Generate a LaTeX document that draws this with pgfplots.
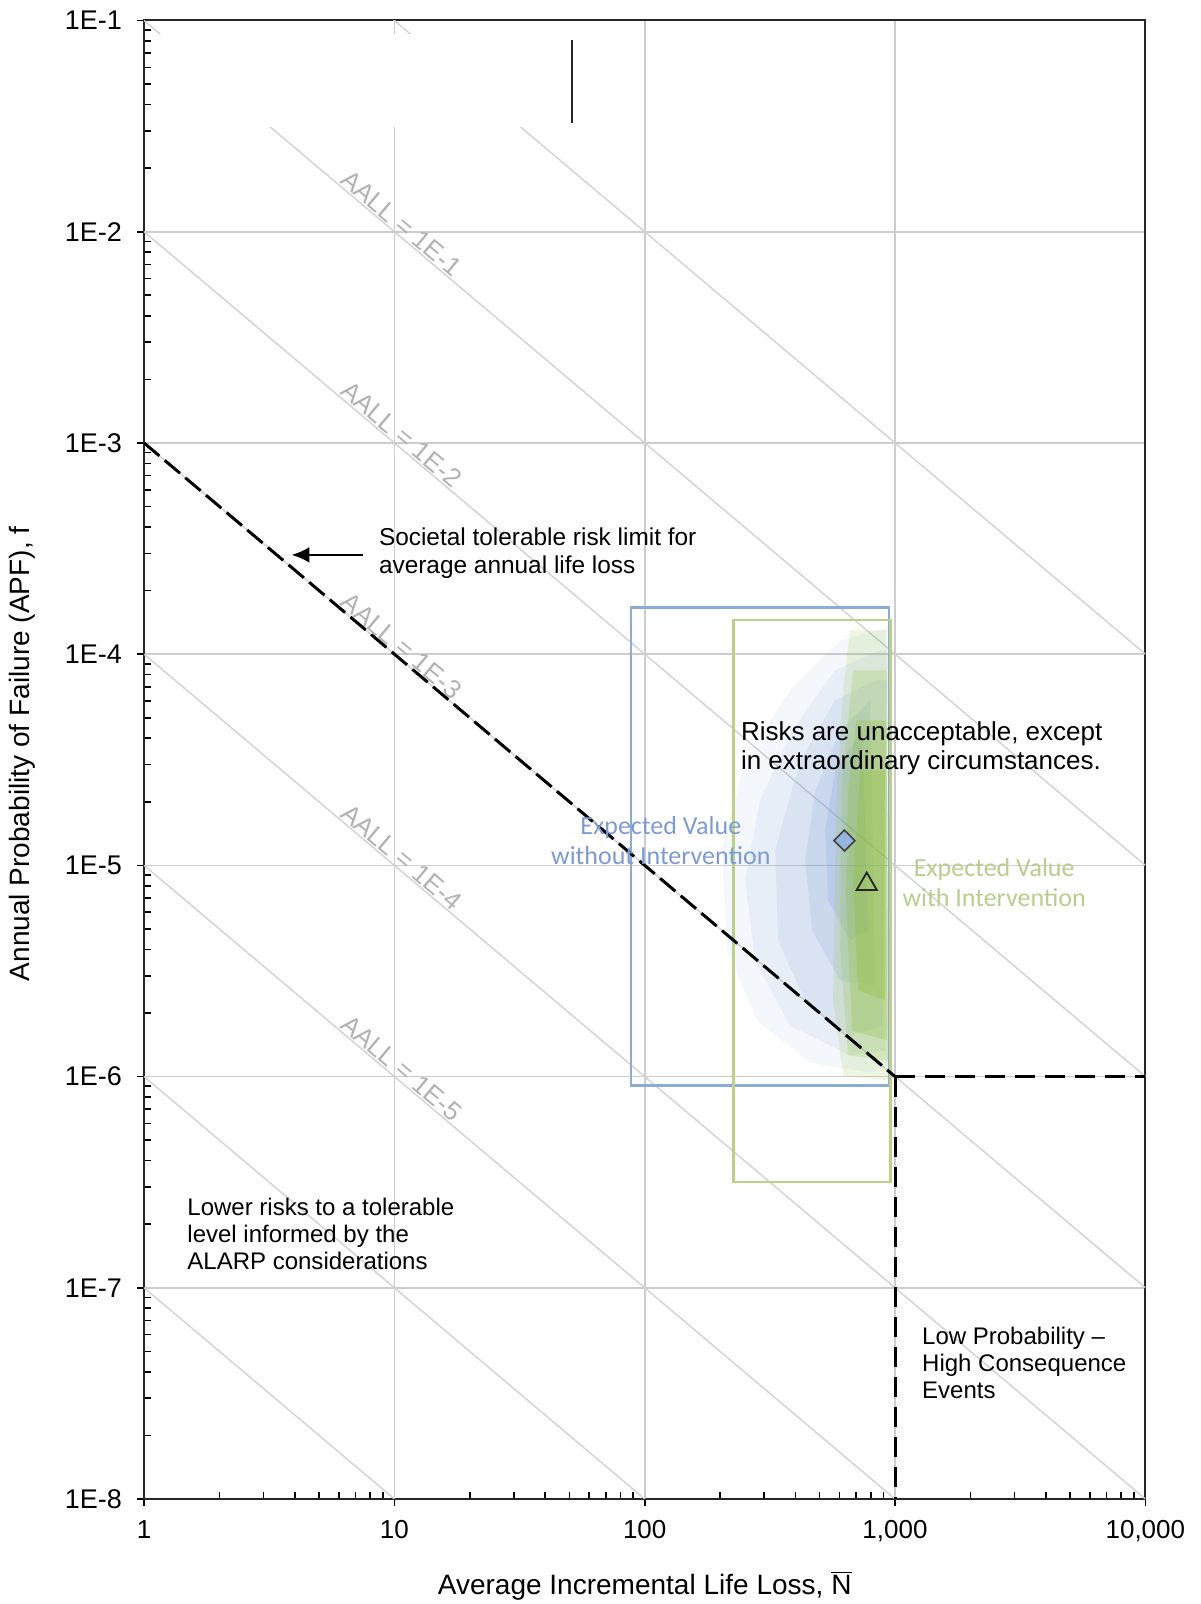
\documentclass[border=0pt]{standalone}
\usepackage{pgfplots}
\pgfplotsset{compat=1.18}
\usepackage{fontspec}
\setmainfont{Liberation Sans}
\newfontfamily\calibri{Carlito}
\usetikzlibrary{arrows.meta}
\definecolor{gridgray}{RGB}{205,205,205}
\definecolor{diaggray}{RGB}{210,210,210}
\definecolor{lblgray}{RGB}{178,178,178}
\definecolor{rectblue}{RGB}{140,172,216}
\definecolor{rectgreen}{RGB}{188,208,138}
\definecolor{cloudblue}{RGB}{120,155,210}
\definecolor{cloudgreen}{RGB}{140,190,50}
\definecolor{txtblue}{RGB}{125,155,210}
\definecolor{txtgreen}{RGB}{185,205,140}
\definecolor{diamfill}{RGB}{150,180,222}
\begin{document}
\begin{tikzpicture}
\useasboundingbox (-72pt,-52.5pt) rectangle (528pt,749.25pt);
\begin{axis}[
  at={(0,0)}, anchor=south west,
  scale only axis, width=500.5pt, height=739pt,
  xmode=log, ymode=log,
  xmin=1, xmax=10000, ymin=1e-8, ymax=1e-1,
  xtick={1,10,100,1000,10000},
  xticklabels={1,10,100,{1,000},{10,000}},
  ytick={1e-8,1e-7,1e-6,1e-5,1e-4,1e-3,1e-2,1e-1},
  yticklabels={1E-8,1E-7,1E-6,1E-5,1E-4,1E-3,1E-2,1E-1},
  minor xtick={2,3,4,5,6,7,8,9,20,30,40,50,60,70,80,90,200,300,400,500,600,700,800,900,2000,3000,4000,5000,6000,7000,8000,9000},
  minor ytick={2e-8,3e-8,4e-8,5e-8,6e-8,7e-8,8e-8,9e-8,2e-7,3e-7,4e-7,5e-7,6e-7,7e-7,8e-7,9e-7,2e-6,3e-6,4e-6,5e-6,6e-6,7e-6,8e-6,9e-6,2e-5,3e-5,4e-5,5e-5,6e-5,7e-5,8e-5,9e-5,2e-4,3e-4,4e-4,5e-4,6e-4,7e-4,8e-4,9e-4,2e-3,3e-3,4e-3,5e-3,6e-3,7e-3,8e-3,9e-3,2e-2,3e-2,4e-2,5e-2,6e-2,7e-2,8e-2,9e-2},
  tick pos=left,
  tick align=outside,
  major tick length=3.5pt,
  minor tick length=-3.5pt,
  tick style={black, line width=0.8pt},
  grid=major,
  major grid style={gridgray, line width=0.8pt},
  axis line style={black!85, line width=1pt},
  ticklabel style={font=\fontsize{13}{15}\selectfont},
  yticklabel style={xshift=-4pt, font=\fontsize{13.5}{15}\selectfont},
  xticklabel style={yshift=-3.6pt},
  xlabel={Average Incremental Life Loss, $\overline{\mbox{N}}$},
  ylabel={Annual Probability of Failure (APF), f},
  xlabel style={at={(axis description cs:0.5,-0.0589)}, anchor=center, font=\fontsize{14}{16}\selectfont},
  ylabel style={at={(axis description cs:-0.1214,0.504)}, anchor=center, font=\fontsize{14}{16}\selectfont},
  clip=true,
]
% AALL diagonals
\addplot[diaggray, line width=0.7pt] coordinates {(1,1e0) (10000,1e-4)};
\addplot[diaggray, line width=0.7pt] coordinates {(1,1e-1) (10000,1e-5)};
\addplot[diaggray, line width=0.7pt] coordinates {(1,1e-2) (10000,1e-6)};
\addplot[diaggray, line width=0.7pt] coordinates {(1,1e-3) (10000,1e-7)};
\addplot[diaggray, line width=0.7pt] coordinates {(1,1e-4) (10000,1e-8)};
\addplot[diaggray, line width=0.7pt] coordinates {(1,1e-5) (10000,1e-9)};
\addplot[diaggray, line width=0.7pt] coordinates {(1,1e-6) (10000,1e-10)};
\addplot[diaggray, line width=0.7pt] coordinates {(1,1e-7) (10000,1e-11)};
% white mask at top
\addplot[fill=white, draw=none] coordinates {(1.16,0.0863) (98.6,0.0863) (98.6,0.0313) (1.16,0.0313)} -- cycle;
\addplot[black!85, line width=1.2pt] coordinates {(51.3,0.0809) (51.3,0.0327)};
% AALL labels
\begin{scope}[every node/.style={lblgray, font=\fontsize{13}{15}\selectfont, rotate=-40.14, anchor=base, inner sep=0pt, yshift=1pt}]
\node at (axis cs:10,1e-2) {AALL = 1E-1};
\node at (axis cs:10,1e-3) {AALL = 1E-2};
\node at (axis cs:10,1e-4) {AALL = 1E-3};
\node at (axis cs:10,1e-5) {AALL = 1E-4};
\node at (axis cs:10,1e-6) {AALL = 1E-5};
\end{scope}
% blue cloud (without intervention)
\addplot[fill=cloudblue, fill opacity=0.08, draw=none] coordinates {(912.9,1.325e-4) (603.6,1.162e-4) (380.9,6.74e-5) (251.8,3.14e-5) (203.8,1.176e-5) (213.4,3.95e-6) (281.2,1.84e-6) (457.9,1.165e-6) (795.4,1.044e-6) (938.6,1.127e-6) (938.6,1.325e-4)} -- cycle;
\addplot[fill=cloudblue, fill opacity=0.10, draw=none] coordinates {(871.9,1.042e-4) (576.4,8.38e-5) (388.0,4.36e-5) (289.1,2.03e-5) (251.8,8.49e-6) (276.1,3.54e-6) (380.9,1.74e-6) (661.7,1.26e-6) (912.9,1.33e-6) (938.6,1.042e-4)} -- cycle;
\addplot[fill=cloudblue, fill opacity=0.13, draw=none] coordinates {(832.8,7.51e-5) (576.4,6.04e-5) (417.8,3.14e-5) (331.9,1.176e-5) (341.2,4.41e-6) (437.2,2.29e-6) (661.7,1.56e-6) (888.2,1.74e-6) (921.4,7.51e-5)} -- cycle;
\addplot[fill=cloudblue, fill opacity=0.16, draw=none] coordinates {(795.4,6.04e-5) (603.6,4.36e-5) (479.5,2.26e-5) (437.2,1.055e-5) (466.4,4.92e-6) (603.6,2.85e-6) (832.8,2.70e-6)} -- cycle;
\addplot[fill=cloudblue, fill opacity=0.20, draw=none] coordinates {(738.9,4.36e-5) (576.4,2.82e-5) (525.7,1.463e-5) (540.4,6.82e-6) (661.7,4.41e-6) (780.6,4.92e-6)} -- cycle;
% green cloud (with intervention)
\addplot[fill=cloudgreen, fill opacity=0.15, draw=none] coordinates {(661.7,1.296e-4) (921.4,1.296e-4) (947.3,9.57e-7) (620.4,1.011e-6) (565.8,2.29e-6) (581.7,2.03e-5) (620.4,6.74e-5)} -- cycle;
\addplot[fill=cloudgreen, fill opacity=0.20, draw=none] coordinates {(680.2,8.38e-5) (929.9,8.38e-5) (938.6,1.19e-6) (649.6,1.26e-6) (603.6,3.95e-6) (614.8,2.52e-5)} -- cycle;
\addplot[fill=cloudgreen, fill opacity=0.25, draw=none] coordinates {(699.3,4.86e-5) (921.4,4.86e-5) (929.9,1.48e-6) (674.0,1.65e-6) (637.8,6.82e-6) (649.6,2.26e-5)} -- cycle;
\addplot[fill=cloudgreen, fill opacity=0.30, draw=none] coordinates {(725.5,2.82e-5) (912.9,2.82e-5) (912.9,2.29e-6) (712.2,2.55e-6) (680.2,8.49e-6)} -- cycle;
% rectangles
\addplot[rectblue, line width=1.2pt] coordinates {(88.3,1.66e-4) (948,1.66e-4) (948,9.06e-7) (88.3,9.06e-7)} -- cycle;
\addplot[rectgreen, line width=1.2pt] coordinates {(226,1.45e-4) (960,1.45e-4) (960,3.16e-7) (226,3.16e-7)} -- cycle;
% tolerable risk limit
\addplot[black, line width=1.5pt, dash pattern=on 10pt off 3.5pt] coordinates {(1,1e-3) (1000,1e-6)};
\addplot[black, line width=1.5pt, dash pattern=on 10pt off 5pt] coordinates {(1000,1e-6) (10000,1e-6)};
\addplot[black, line width=1.5pt, dash pattern=on 10pt off 5pt] coordinates {(1000,1e-6) (1000,1e-8)};
% arrow
\addplot[black, line width=1.4pt, -{Latex[length=9pt,width=8pt]}] coordinates {(7.5,2.95e-4) (3.88,2.95e-4)};
% expected values
\addplot[only marks, mark=square*, mark size=3.7pt, mark options={rotate=45, fill=diamfill, draw=black!75, line width=0.8pt}] coordinates {(628,1.31e-5)};
\addplot[only marks, mark=triangle, mark size=5.8pt, mark options={draw=black!85, line width=0.9pt}] coordinates {(771,8.15e-6)};
% texts
\node[anchor=west, align=left, inner sep=0pt, font=\fontsize{12.2}{13.8}\selectfont] at (axis cs:8.65,3.0e-4) {Societal tolerable risk limit for\\average annual life loss};
\node[anchor=west, align=left, inner sep=0pt, font=\fontsize{13}{14.9}\selectfont] at (axis cs:241.6,3.58e-5) {Risks are unacceptable, except\\in extraordinary circumstances.};
\node[align=center, inner sep=0pt, text=txtblue, font=\calibri\fontsize{13}{15.3}\selectfont] at (axis cs:116,1.31e-5) {Expected Value\\without Intervention};
\node[align=center, inner sep=0pt, text=txtgreen, font=\calibri\fontsize{13}{15.3}\selectfont] at (axis cs:2489,8.3e-6) {Expected Value\\with Intervention};
\node[anchor=west, align=left, inner sep=0pt, font=\fontsize{12}{13.6}\selectfont] at (axis cs:1.485,1.8e-7) {Lower risks to a tolerable\\level informed by the\\ALARP considerations};
\node[anchor=west, align=left, inner sep=0pt, font=\fontsize{12}{13.6}\selectfont] at (axis cs:1279,4.42e-8) {Low Probability --\\High Consequence\\Events};
\end{axis}
\end{tikzpicture}
\end{document}
